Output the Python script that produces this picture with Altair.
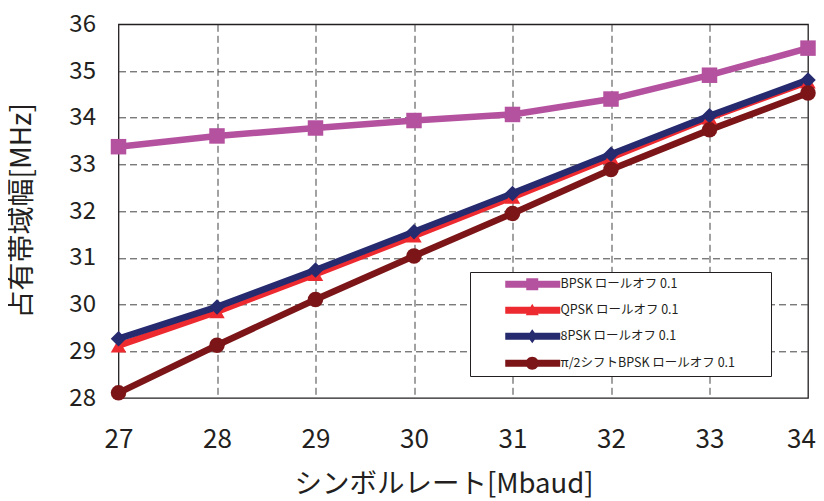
import altair as alt
import pandas as pd

# ---- data ----
symbol_rate = [27, 28, 29, 30, 31, 32, 33, 34]
series_names = [
    "BPSK ロールオフ 0.1",
    "QPSK ロールオフ 0.1",
    "8PSK ロールオフ 0.1",
    "π/2シフトBPSK ロールオフ 0.1",
]
bpsk = [33.38, 33.61, 33.78, 33.94, 34.07, 34.40, 34.91, 35.49]
qpsk = [29.12, 29.85, 30.65, 31.47, 32.30, 33.15, 34.00, 34.77]
psk8 = [29.27, 29.95, 30.74, 31.56, 32.38, 33.22, 34.04, 34.81]
pi2bpsk = [28.11, 29.13, 30.11, 31.04, 31.95, 32.89, 33.74, 34.53]
y_grid = [28 + 0.5 * i for i in range(17)]

colors = ["#B5529F", "#ED2A2F", "#262A6E", "#7C1518"]
shapes = ["square", "triangle-up", "diamond", "circle"]

rows = []
for name, vals in zip(series_names, [bpsk, qpsk, psk8, pi2bpsk]):
    for xv, yv in zip(symbol_rate, vals):
        rows.append({"rate": xv, "bw": yv, "series": name})
df = pd.DataFrame(rows)

# legend symbols: line segment with the marker in the middle
bar = "M4.6,-0.7 L15.6,-0.7 L15.6,0.7 L4.6,0.7 Z "
ext = "M56.4,0 "
legend_paths = [
    ext + bar + "M8.8,-1.2 L11.2,-1.2 L11.2,1.2 L8.8,1.2 Z",
    ext + bar + "M10,-1.3 L11.3,1.0 L8.7,1.0 Z",
    ext + bar + "M10,-1.4 L11,0 L10,1.4 L9,0 Z",
    ext + bar + "M8.7,0 A1.3,1.3 0 1,1 11.3,0 A1.3,1.3 0 1,1 8.7,0 Z",
]

FONT = "Noto Sans CJK JP"
TXT = "#231F20"

x_enc = alt.X(
    "rate:Q",
    scale=alt.Scale(domain=[27, 34], nice=False, zero=False),
    axis=alt.Axis(
        values=symbol_rate,
        format="d",
        title="シンボルレート[Mbaud]",
        titleFont=FONT,
        titleFontSize=27.5,
        titleFontWeight="normal",
        titleColor=TXT,
        titleX=325,
        titleY=94,
        titleBaseline="alphabetic",
        titleAnchor="middle",
        labelFont=FONT,
        labelFontSize=26,
        labelColor=TXT,
        labelPadding=28,
        labelBaseline="top",
        labelFlush=False,
        labelOffset={"condition": {"test": "datum.value == 34", "value": -7}, "value": 0},
        ticks=False,
        domain=False,
        grid=True,
        gridColor="#444444",
        gridDash=[7, 4],
        gridWidth=1,
        gridOpacity={"condition": {"test": "datum.value == 27 || datum.value == 34", "value": 0}, "value": 1},
    ),
)
y_enc = alt.Y(
    "bw:Q",
    scale=alt.Scale(domain=[28, 36], nice=False, zero=False),
    axis=alt.Axis(
        values=y_grid,
        labelExpr="datum.value % 1 == 0 ? datum.label : ''",
        format="d",
        title="占有帯域幅[MHz]",
        titleFont=FONT,
        titleFontSize=28,
        titleFontWeight="normal",
        titleColor=TXT,
        titleX=-96,
        titleY=186,
        titleBaseline="middle",
        titleAnchor="middle",
        labelFont=FONT,
        labelFontSize=24,
        labelColor=TXT,
        labelPadding=23,
        labelFlush=False,
        ticks=False,
        domain=False,
        grid=True,
        gridColor="#444444",
        gridDash=[7, 4],
        gridWidth=1,
        gridOpacity={"condition": {"test": "datum.value == 28 || datum.value == 36", "value": 0}, "value": 1},
    ),
)

color_scale = alt.Scale(domain=series_names, range=colors)

base = alt.Chart(df)

lines = base.mark_line(strokeWidth=6.5, clip=False).encode(
    x=x_enc,
    y=y_enc,
    color=alt.Color("series:N", scale=color_scale, legend=None),
    order=alt.Order("rate:Q"),
)

points = base.mark_point(filled=True, opacity=1, size=240, strokeWidth=0).encode(
    x=x_enc,
    y=y_enc,
    color=alt.Color("series:N", scale=color_scale, legend=None),
    shape=alt.Shape("series:N", scale=alt.Scale(domain=series_names, range=shapes), legend=None),
)

leg_common = dict(
    title=None,
    orient="none",
    legendX=351.5,
    legendY=247.7,
    fillColor="white",
    strokeColor=TXT,
    padding=6,
    symbolSize=100,
    symbolStrokeWidth=0,
    symbolOpacity=1,
    labelFont=FONT,
    labelFontSize=12.5,
    labelColor=TXT,
    labelOffset=72,
    rowPadding=12,
    labelLimit=400,
)

legend_layer = base.transform_filter("datum.rate < 0").mark_point(
    filled=True, opacity=1, size=100, strokeWidth=0
).encode(
    x=x_enc,
    y=y_enc,
    color=alt.Color("series:N", scale=color_scale, legend=alt.Legend(**leg_common)),
    shape=alt.Shape(
        "series:N",
        scale=alt.Scale(domain=series_names, range=legend_paths),
        legend=alt.Legend(**leg_common),
    ),
)

chart = (
    alt.layer(lines, points, legend_layer)
    .resolve_scale(color="independent", shape="independent")
    .properties(
        width=689.5,
        height=373.7,
        autosize=alt.AutoSizeParams(type="none"),
        padding={"left": 110.5, "top": 16.3, "right": 8, "bottom": 100},
        background="white",
    )
    .configure_view(stroke=TXT, strokeWidth=1.3)
)

chart.save("out.html", embed_options={"renderer": "svg", "actions": False})
